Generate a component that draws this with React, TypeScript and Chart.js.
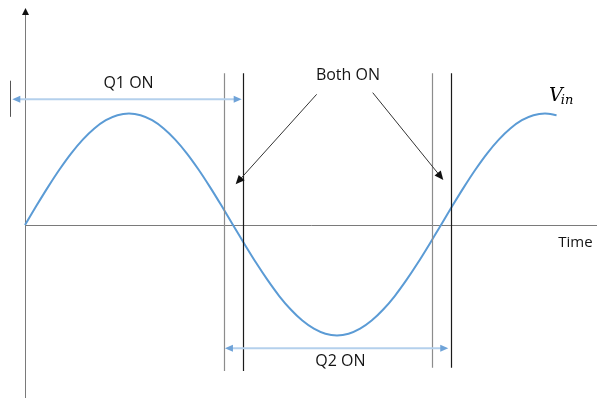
import React, { useEffect, useRef } from "react";
import { Chart, registerables } from "chart.js";

Chart.register(...registerables);

// Phase angle (degrees) of each sample, and Vin (normalised)
const phaseDeg = [0, 10, 20, 30, 40, 50, 60, 70, 80, 90, 100, 110, 120, 130, 140, 150, 160, 170, 180, 190, 200, 210, 220, 230, 240, 250, 260, 270, 280, 290, 300, 310, 320, 330, 340, 350, 360, 370, 380, 390, 400, 410, 420, 430, 440, 450, 460];
const vin = [0, 0.174, 0.342, 0.5, 0.643, 0.766, 0.866, 0.94, 0.985, 1, 0.985, 0.94, 0.866, 0.766, 0.643, 0.5, 0.342, 0.174, 0, -0.172, -0.339, -0.495, -0.637, -0.758, -0.857, -0.93, -0.975, -0.99, -0.975, -0.93, -0.857, -0.758, -0.637, -0.495, -0.339, -0.172, 0, 0.174, 0.342, 0.5, 0.643, 0.766, 0.866, 0.94, 0.985, 1, 0.985];

// Switching edges (degrees): grey = first, black = second of each pair
const greyEdges = [172, 352];
const blackEdges = [189, 369];
const edgeTop = 1.36;
const edgeBottom = [-1.31, -1.28];

// Conduction intervals (degrees) and the level they are drawn at
const q1On = [-11, 187.5];
const q1Level = 1.127;
const q1TickDeg = -13;
const q1Tick = [0.97, 1.294];
const q2On = [173, 366.3];
const q2Level = -1.106;

// Labels
const labels = ["Q1 ON", "Q2 ON", "Both ON", "Time"];
const labelDeg = [89.6, 273, 279.5, 461.5];
const labelVal = [1.27, -1.22, 1.345, -0.157];

// "Both ON" pointer arrows: [fromDeg, fromVal, toDeg, toVal]
const bothArrowA = [252.4, 1.172, 182.3, 0.365];
const bothArrowB = [300.9, 1.187, 362, 0.404];

const vinLabelDeg = 453.5;
const vinLabelVal = 1.115;

const X_MIN = -21.63;
const X_MAX = 495.0;
const Y_MIN = -1.5516;
const Y_MAX = 2.0179;

function arrowHead(ctx: CanvasRenderingContext2D, x1: number, y1: number, x2: number, y2: number, len: number, half: number, color: string) {
  const a = Math.atan2(y2 - y1, x2 - x1);
  ctx.save();
  ctx.fillStyle = color;
  ctx.beginPath();
  ctx.moveTo(x2, y2);
  ctx.lineTo(x2 - len * Math.cos(a) + half * Math.sin(a), y2 - len * Math.sin(a) - half * Math.cos(a));
  ctx.lineTo(x2 - len * Math.cos(a) - half * Math.sin(a), y2 - len * Math.sin(a) + half * Math.cos(a));
  ctx.closePath();
  ctx.fill();
  ctx.restore();
}

const diagramPlugin = {
  id: "diagram",
  beforeDatasetsDraw(chart: any) {
    const ctx: CanvasRenderingContext2D = chart.ctx;
    const xs = chart.scales.x;
    const ys = chart.scales.y;
    const x0 = Math.round(xs.getPixelForValue(0)) + 0.5;
    const y0 = Math.round(ys.getPixelForValue(0)) + 0.5;
    ctx.save();
    ctx.lineWidth = 1;
    ctx.strokeStyle = "#7a7a7a";
    ctx.beginPath();
    ctx.moveTo(x0, chart.height);
    ctx.lineTo(x0, 12);
    ctx.stroke();
    arrowHead(ctx, x0, 20, x0, 8, 7, 3.5, "#111");
    ctx.beginPath();
    ctx.moveTo(x0, y0);
    ctx.lineTo(chart.width, y0);
    ctx.stroke();
    ctx.restore();
  },
  afterDatasetsDraw(chart: any) {
    const ctx: CanvasRenderingContext2D = chart.ctx;
    const xs = chart.scales.x;
    const ys = chart.scales.y;
    const px = (v: number) => xs.getPixelForValue(v);
    const py = (v: number) => ys.getPixelForValue(v);
    ctx.save();
    ctx.lineWidth = 1.2;
    greyEdges.forEach((d, i) => {
      const x = Math.round(px(d)) + 0.5;
      ctx.strokeStyle = "#8c8c8c";
      ctx.beginPath();
      ctx.moveTo(x, py(edgeTop));
      ctx.lineTo(x, py(edgeBottom[i]));
      ctx.stroke();
    });
    blackEdges.forEach((d, i) => {
      const x = Math.round(px(d)) + 0.5;
      ctx.strokeStyle = "#1a1a1a";
      ctx.beginPath();
      ctx.moveTo(x, py(edgeTop));
      ctx.lineTo(x, py(edgeBottom[i]));
      ctx.stroke();
    });
    ctx.strokeStyle = "#555";
    ctx.lineWidth = 1;
    const tx = Math.round(px(q1TickDeg)) + 0.5;
    ctx.beginPath();
    ctx.moveTo(tx, py(q1Tick[0]));
    ctx.lineTo(tx, py(q1Tick[1]));
    ctx.stroke();
    const dbl = (a: number, b: number, lvl: number) => {
      const y = py(lvl);
      const xa = px(a);
      const xb = px(b);
      ctx.strokeStyle = "#b4d0ec";
      ctx.lineWidth = 2;
      ctx.beginPath();
      ctx.moveTo(xa + 5, y);
      ctx.lineTo(xb - 5, y);
      ctx.stroke();
      arrowHead(ctx, xb - 10, y, xb, y, 8, 3.5, "#6fa3d8");
      arrowHead(ctx, xa + 10, y, xa, y, 8, 3.5, "#6fa3d8");
    };
    dbl(q1On[0], q1On[1], q1Level);
    dbl(q2On[0], q2On[1], q2Level);
    [bothArrowA, bothArrowB].forEach((arr) => {
      const x1 = px(arr[0]);
      const y1 = py(arr[1]);
      const x2 = px(arr[2]);
      const y2 = py(arr[3]);
      const a = Math.atan2(y2 - y1, x2 - x1);
      ctx.strokeStyle = "#333";
      ctx.lineWidth = 1;
      ctx.beginPath();
      ctx.moveTo(x1, y1);
      ctx.lineTo(x2 - 6 * Math.cos(a), y2 - 6 * Math.sin(a));
      ctx.stroke();
      arrowHead(ctx, x1, y1, x2, y2, 9, 4, "#111");
    });
    ctx.fillStyle = "#141414";
    ctx.textBaseline = "middle";
    labels.forEach((t, i) => {
      ctx.font = t === "Time" ? "15px 'Open Sans'" : "16px 'Open Sans'";
      ctx.textAlign = t === "Time" ? "left" : "center";
      ctx.fillText(t, px(labelDeg[i]), py(labelVal[i]));
    });
    ctx.textAlign = "left";
    ctx.textBaseline = "alphabetic";
    const vx = px(vinLabelDeg);
    const vy = py(vinLabelVal);
    ctx.fillStyle = "#000";
    ctx.font = "italic 19px 'DejaVu Serif'";
    ctx.fillText("V", vx, vy);
    const w = ctx.measureText("V").width;
    ctx.font = "italic 13px 'DejaVu Serif'";
    ctx.fillText("in", vx + w - 2, vy + 3);
    ctx.restore();
  },
};

export default function App() {
  const ref = useRef<HTMLCanvasElement>(null);
  useEffect(() => {
    if (!ref.current) return;
    const chart = new Chart(ref.current, {
      type: "line",
      data: {
        datasets: [
          {
            data: phaseDeg.map((d, i) => ({ x: d, y: vin[i] })),
            borderColor: "#5b9bd5",
            borderWidth: 2,
            pointRadius: 0,
            tension: 0.3,
            fill: false,
          },
        ],
      },
      options: {
        animation: false,
        responsive: false,
        maintainAspectRatio: false,
        layout: { padding: 0 },
        plugins: { legend: { display: false }, tooltip: { enabled: false } },
        scales: {
          x: { type: "linear", min: X_MIN, max: X_MAX, display: false },
          y: { type: "linear", min: Y_MIN, max: Y_MAX, display: false },
        },
      },
      plugins: [diagramPlugin],
    });
    return () => chart.destroy();
  }, []);
  return (
    <div style={{ position: "fixed", left: 0, top: 0, width: 597, height: 398, background: "#fff" }}>
      <canvas ref={ref} width={597} height={398} style={{ width: 597, height: 398, display: "block" }} />
    </div>
  );
}
